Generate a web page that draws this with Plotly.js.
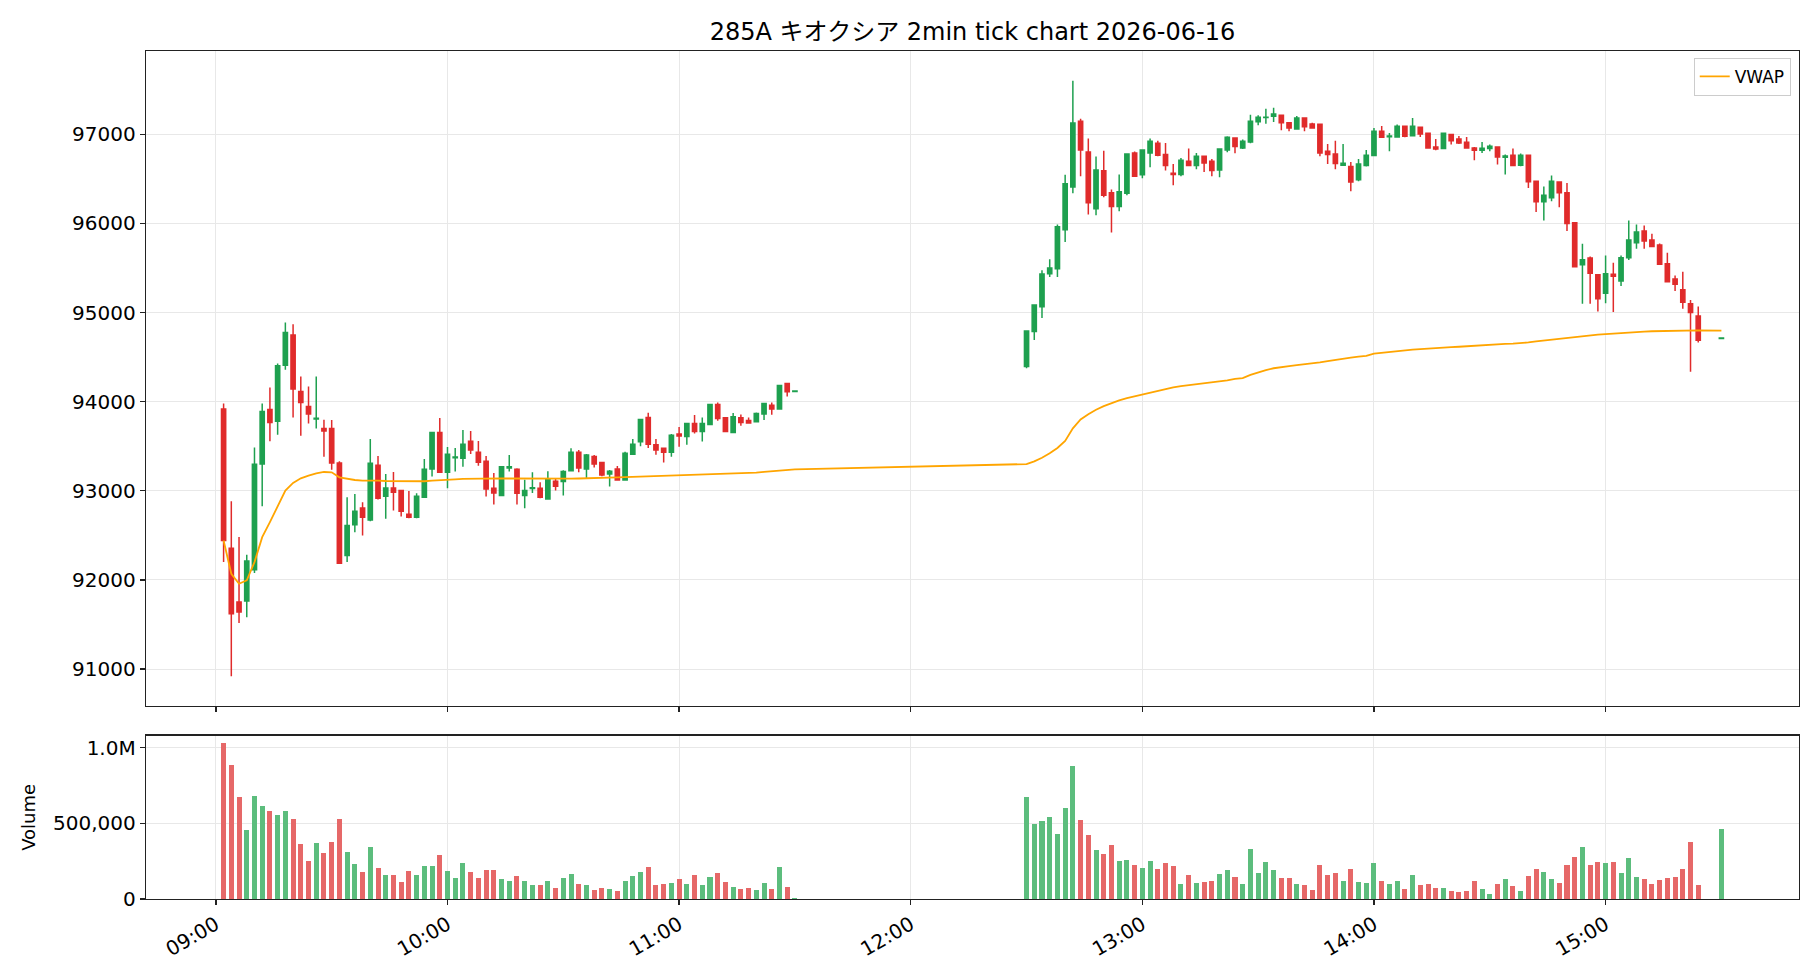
<!DOCTYPE html>
<html><head><meta charset="utf-8">
<script src="https://cdn.plot.ly/plotly-3.0.1.min.js"></script>
<style>html,body{margin:0;padding:0;background:#fff}#chart{width:1820px;height:980px}</style>
</head><body><div id="chart"></div>
<script>
const tradeDate = '2026-06-16';
const titleText = '285A キオクシア 2min tick chart 2026-06-16';

const times = [
 '09:02','09:04','09:06','09:08','09:10','09:12','09:14','09:16','09:18','09:20',
 '09:22','09:24','09:26','09:28','09:30','09:32','09:34','09:36','09:38','09:40',
 '09:42','09:44','09:46','09:48','09:50','09:52','09:54','09:56','09:58','10:00',
 '10:02','10:04','10:06','10:08','10:10','10:12','10:14','10:16','10:18','10:20',
 '10:22','10:24','10:26','10:28','10:30','10:32','10:34','10:36','10:38','10:40',
 '10:42','10:44','10:46','10:48','10:50','10:52','10:54','10:56','10:58','11:00',
 '11:02','11:04','11:06','11:08','11:10','11:12','11:14','11:16','11:18','11:20',
 '11:22','11:24','11:26','11:28','11:30',
 '12:30','12:32','12:34','12:36','12:38','12:40','12:42','12:44','12:46','12:48',
 '12:50','12:52','12:54','12:56','12:58','13:00','13:02','13:04','13:06','13:08',
 '13:10','13:12','13:14','13:16','13:18','13:20','13:22','13:24','13:26','13:28',
 '13:30','13:32','13:34','13:36','13:38','13:40','13:42','13:44','13:46','13:48',
 '13:50','13:52','13:54','13:56','13:58','14:00','14:02','14:04','14:06','14:08',
 '14:10','14:12','14:14','14:16','14:18','14:20','14:22','14:24','14:26','14:28',
 '14:30','14:32','14:34','14:36','14:38','14:40','14:42','14:44','14:46','14:48',
 '14:50','14:52','14:54','14:56','14:58','15:00','15:02','15:04','15:06','15:08',
 '15:10','15:12','15:14','15:16','15:18','15:20','15:22','15:24','15:30'
];

const opens = [
 93917,92356,91752,91763,92114,93301,93913,93779,94409,94749,
 94115,93947,93805,93700,93700,93312,92274,92618,92808,92673,
 93286,92938,93032,93002,92737,92703,92927,93245,93655,93207,
 93371,93364,93555,93431,93331,93028,92946,93256,93241,92946,
 93025,93028,92908,93106,93103,93226,93431,93245,93385,93316,
 93189,93245,93121,93409,93551,93823,93517,93476,93431,93637,
 93610,93756,93666,93745,93969,93820,93655,93820,93790,93775,
 93861,93961,93917,94204,94115,
 94395,94787,95066,95436,95492,95929,96410,97146,96803,96164,
 96590,96343,96190,96340,96791,96545,96791,96900,96773,96564,
 96549,96698,96649,96754,96698,96601,96825,96959,96847,96915,
 97142,97188,97202,97213,97131,97060,97183,97116,97112,96810,
 96780,96653,96638,96489,96649,96761,97034,96974,96970,97090,
 96985,97079,97011,96858,96840,96999,96948,96911,96847,96821,
 96840,96858,96743,96765,96653,96765,96474,96243,96287,96466,
 96343,96007,95537,95612,95425,95216,95429,95354,95615,95783,
 95914,95813,95757,95548,95376,95257,95100,94962,94710
];
const highs = [
 93980,92883,92480,92282,93487,93980,94159,94428,94887,94869,
 94283,94171,94283,93797,93793,93331,92927,92965,92871,93581,
 93390,93189,93211,93002,92998,92972,93357,93655,93816,93491,
 93480,93681,93670,93558,93390,93200,93271,93401,93252,93125,
 93207,93095,93219,93133,93230,93476,93457,93413,93401,93316,
 93233,93278,93439,93581,93801,93876,93581,93487,93637,93715,
 93756,93849,93823,93969,93991,93820,93872,93857,93823,93879,
 93980,93991,94182,94204,94120,
 94802,95085,95474,95597,95989,96545,97601,97176,96952,96750,
 96817,96381,96549,96780,96806,96825,96952,96929,96903,96668,
 96735,96840,96791,96754,96724,96836,96978,96959,96941,97221,
 97213,97288,97299,97213,97131,97206,97183,97131,97112,96892,
 96929,96892,96690,96724,96825,97071,97094,97015,97109,97090,
 97183,97079,97011,96948,97011,96999,96982,96970,96858,96914,
 96885,96858,96773,96840,96784,96765,96474,96414,96537,96466,
 96455,96007,95772,95630,95425,95641,95559,95641,96033,95989,
 95977,95884,95776,95671,95417,95458,95141,95067,94715
];
const lows = [
 92200,90919,91516,91580,92076,92827,93555,93629,94357,93823,
 93618,93756,93700,93383,93237,92188,92200,92536,92498,92659,
 92901,92685,92778,92711,92692,92692,92927,93159,93207,93028,
 93215,93271,93413,93282,92935,92845,92938,93215,92845,92804,
 92976,92916,92908,93002,92946,93215,93207,93140,93260,93162,
 93047,93121,93121,93409,93499,93480,93405,93316,93383,93495,
 93517,93644,93554,93745,93786,93666,93655,93730,93760,93767,
 93793,93853,93917,94059,94115,
 94376,94693,94940,95399,95399,95791,96340,96530,96101,96093,
 96295,95899,96138,96317,96530,96508,96631,96754,96593,96429,
 96530,96649,96608,96578,96530,96519,96799,96788,96836,96900,
 97101,97120,97138,97045,97034,97060,97034,97071,96754,96668,
 96608,96653,96362,96474,96638,96761,96959,96810,96970,96967,
 96985,96970,96847,96821,96840,96885,96892,96847,96709,96791,
 96810,96661,96549,96642,96642,96399,96127,96033,96250,96183,
 95914,95515,95100,95100,95011,95104,95007,95298,95589,95716,
 95716,95742,95541,95346,95242,95044,94335,94663,94710
];
const closes = [
 92442,91621,91640,92211,93297,93891,93767,94402,94775,94141,
 93991,93861,93815,93670,93312,92188,92610,92770,92703,93308,
 92916,93032,92983,92771,92703,92938,93241,93655,93207,93409,
 93380,93521,93457,93319,93021,92976,93271,93271,92972,93002,
 93035,92927,93125,93050,93215,93431,93256,93401,93301,93177,
 93218,93121,93420,93521,93801,93521,93457,93431,93622,93614,
 93756,93666,93756,93969,93812,93666,93831,93767,93760,93868,
 93980,93917,94182,94111,94120,
 94794,95085,95432,95500,95963,96444,97127,96825,96231,96601,
 96317,96190,96355,96780,96530,96825,96922,96765,96649,96549,
 96709,96649,96754,96679,96593,96836,96967,96862,96922,97146,
 97191,97191,97228,97131,97071,97183,97086,97071,96791,96773,
 96672,96676,96466,96668,96765,97034,96967,96982,97090,96978,
 97090,97004,96847,96836,97011,96929,96903,96847,96821,96843,
 96866,96746,96758,96649,96765,96467,96243,96317,96474,96343,
 96000,95515,95593,95440,95156,95436,95406,95615,95813,95903,
 95802,95742,95541,95346,95317,95115,95000,94690,94715
];
const volumes = [
 1028500,883800,673300,456100,679800,614000,581100,554800,581100,528500,
 364000,252200,370600,304800,377200,528500,311400,232500,179800,344300,
 206100,160100,160100,114000,186400,160100,219300,219300,291700,186400,
 140400,239000,179800,140400,193000,193000,133800,120600,153500,120600,
 94300,94300,120600,74600,140400,166700,100900,94300,61400,74600,
 68000,54800,120600,153500,179800,212700,94300,100900,107500,133800,
 100900,160100,94300,146900,173200,114000,81100,68000,74600,61400,
 107500,68000,212700,81100,8800,
 673300,495600,515400,541700,429800,600900,877200,521900,423200,324600,
 298200,357500,252200,258800,225900,206100,252200,199600,239000,219300,
 100900,160100,107500,114000,120600,166700,193000,146900,100900,331100,
 173200,245600,193000,140400,140400,100900,94300,61400,225900,160100,
 173200,120600,199600,114000,107500,239000,120600,100900,120600,68000,
 160100,94300,100900,74600,74600,54800,48200,54800,120600,68000,
 35100,100900,133800,87700,54800,153500,199600,179800,133800,107500,
 225900,278500,344300,225900,245600,239000,245600,173200,271900,146900,
 133800,100900,127200,140400,146900,199600,377200,94300,462700
];
const vwap = [
 92442,92069,91957,91994,92200,92480,92648,92834,93002,93088,
 93140,93170,93196,93211,93207,93151,93133,93121,93114,93118,
 93114,93110,93108,93105,93103,93103,93107,93114,93121,93125,
 93129,93133,93136,93137,93138,93140,93140,93138,93137,93136,
 93136,93135,93135,93135,93136,93137,93138,93139,93140,93142,
 93146,93150,93153,93156,93159,93163,93165,93166,93168,93170,
 93174,93178,93182,93188,93192,93195,93197,93199,93201,93203,
 93212,93220,93233,93238,93241,
 93300,93330,93370,93420,93480,93560,93700,93800,93860,93910,
 93950,93985,94015,94040,94060,94080,94105,94125,94145,94160,
 94175,94185,94195,94205,94215,94225,94240,94255,94265,94300,
 94330,94355,94375,94390,94400,94410,94420,94425,94440,94455,
 94470,94480,94495,94505,94515,94540,94550,94560,94570,94575,
 94585,94590,94597,94603,94607,94612,94616,94620,94625,94630,
 94634,94640,94648,94652,94656,94665,94676,94686,94693,94700,
 94712,94725,94738,94745,94752,94758,94765,94770,94778,94783,
 94787,94790,94793,94795,94797,94799,94802,94800,94798
];

const hourTicks = ['09:00','10:00','11:00','12:00','13:00','14:00','15:00'];
const priceTicks = [91000,92000,93000,94000,95000,96000,97000];
const volTicks = [0,500000,1000000];
const volTickText = ['0','500,000','1.0M'];

const xs = times.map(t => tradeDate + ' ' + t + ':00');
const hourVals = hourTicks.map(t => tradeDate + ' ' + t + ':00');
const upC = '#1ea04f', dnC = '#e02b2b';
const volColors = closes.map((c, i) => c >= opens[i] ? '#5cbd7d' : '#e66868');

const traces = [
 {type:'candlestick', x:xs, open:opens, high:highs, low:lows, close:closes,
  xaxis:'x', yaxis:'y', showlegend:false, hoverinfo:'skip',
  increasing:{line:{color:upC, width:1.5}, fillcolor:upC},
  decreasing:{line:{color:dnC, width:1.5}, fillcolor:dnC}},
 {type:'scatter', mode:'lines', x:xs, y:vwap, name:'VWAP', xaxis:'x', yaxis:'y',
  line:{color:'#ffa500', width:1.8}},
 {type:'bar', x:xs, y:volumes, xaxis:'x2', yaxis:'y2', showlegend:false,
  marker:{color:volColors, line:{width:0}}, width:xs.map(() => 78000)}
];

const xr = [tradeDate + ' 08:41:54', tradeDate + ' 15:50:06'];
const axisCommon = {showline:true, mirror:true, linecolor:'#222', linewidth:1.3,
  ticks:'outside', ticklen:5, tickwidth:1.3, tickcolor:'#222',
  showgrid:true, gridcolor:'#e8e8e8', gridwidth:1, zeroline:false,
  tickfont:{size:20}};

const layout = {
 width:1820, height:980,
 margin:{l:146, r:21, t:51, b:81},
 paper_bgcolor:'#fff', plot_bgcolor:'#fff',
 font:{family:'"DejaVu Sans", "Noto Sans CJK JP", sans-serif', color:'#000', size:20},
 title:{text:titleText, font:{size:24, color:'#000'}, xref:'paper', x:0.5, xanchor:'center',
   yref:'container', y:1 - 31.5/980, yanchor:'middle'},
 showlegend:true,
 legend:{x:0.995, xanchor:'right', y:0.992, yanchor:'top', bordercolor:'#cccccc', borderwidth:1,
   bgcolor:'rgba(255,255,255,0.8)', font:{size:17}, itemwidth:30},
 boxgap:0.22, bargap:0,
 xaxis:Object.assign({}, axisCommon, {domain:[0,1], anchor:'y', type:'date', range:xr,
   tickvals:hourVals, showticklabels:false, rangeslider:{visible:false}}),
 yaxis:Object.assign({}, axisCommon, {domain:[0.2276,1], anchor:'x', range:[90585,97935],
   tickvals:priceTicks, ticktext:priceTicks.map(String)}),
 xaxis2:Object.assign({}, axisCommon, {domain:[0,1], anchor:'y2', type:'date', range:xr,
   tickvals:hourVals, ticktext:hourTicks, tickangle:-30, rangeslider:{visible:false}}),
 yaxis2:Object.assign({}, axisCommon, {domain:[0,0.1926], anchor:'x2', range:[0,1080000],
   tickvals:volTicks, ticktext:volTickText, title:{text:'Volume', font:{size:18}, standoff:12}})
};

Plotly.newPlot('chart', traces, layout, {displayModeBar:false, staticPlot:true});
</script>
</body></html>
